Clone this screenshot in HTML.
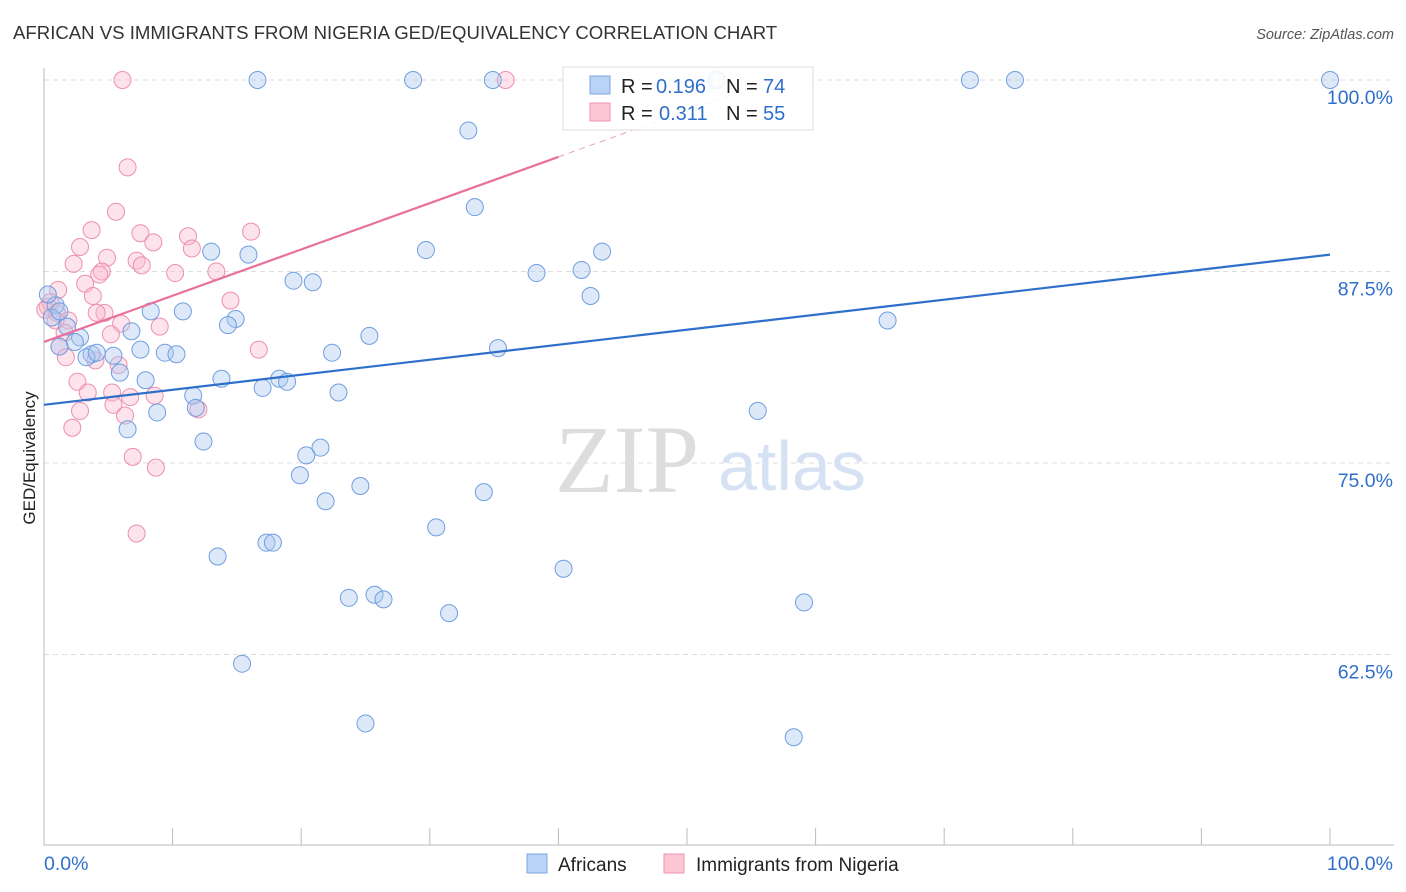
<!DOCTYPE html>
<html><head><meta charset="utf-8"><style>
body{margin:0;background:#fff;font-family:"Liberation Sans",sans-serif}
svg{display:block}
</style></head><body>
<svg id="chart" width="1406" height="892">
<text x="13" y="39" font-size="18.6" fill="#333">AFRICAN VS IMMIGRANTS FROM NIGERIA GED/EQUIVALENCY CORRELATION CHART</text>
<text x="1394" y="39" font-size="14.5" font-style="italic" fill="#555" text-anchor="end">Source: ZipAtlas.com</text>
<text x="35" y="458" font-size="17" fill="#222" text-anchor="middle" transform="rotate(-90 35 458)">GED/Equivalency</text>
<g id="grid"></g>
<text x="555" y="492" font-size="96" font-family="Liberation Serif,serif" fill="#ddd">ZIP</text>
<text x="718" y="490" font-size="70" fill="#d6e2f3">atlas</text>
<g id="points"></g>
<g id="lines"></g>
<g>
<rect x="563" y="67" width="250" height="63" fill="#fff" fill-opacity="0.85" stroke="#ddd"/>
<rect x="590" y="76" width="20" height="18" fill="#b8d3f5" stroke="#7aa6e0"/>
<text x="621" y="93" font-size="20" fill="#222">R =</text>
<text x="656" y="93" font-size="20" fill="#2f6fcc">0.196</text>
<text x="726" y="93" font-size="20" fill="#222">N =</text>
<text x="763" y="93" font-size="20" fill="#2f6fcc">74</text>
<rect x="590" y="103" width="20" height="18" fill="#fcc6d5" stroke="#ef93b0"/>
<text x="621" y="120" font-size="20" fill="#222">R =</text>
<text x="659" y="120" font-size="20" fill="#2f6fcc">0.311</text>
<text x="726" y="120" font-size="20" fill="#222">N =</text>
<text x="763" y="120" font-size="20" fill="#2f6fcc">55</text>
</g>
<g>
<rect x="527" y="854" width="20" height="19" fill="#b8d3f5" stroke="#7aa6e0"/>
<text x="558" y="871" font-size="19" fill="#222">Africans</text>
<rect x="664" y="854" width="20" height="19" fill="#fcc6d5" stroke="#ef93b0"/>
<text x="696" y="871" font-size="19" fill="#222">Immigrants from Nigeria</text>
</g>
</svg>
<script>
const yTicks=[100,87.5,75,62.5];
const yTickLabels=["100.0%","87.5%","75.0%","62.5%"];
const xTickCount=10;
const blueX=[16.6,28.7,34.9,52.3,72.0,75.5,100,33.0,33.5,29.7,13.0,15.9,43.4,38.3,41.8,19.4,20.9,42.5,10.8,8.3,14.9,14.3,65.6,6.8,25.3,1.8,2.8,2.4,1.2,35.3,22.4,7.5,9.4,10.3,3.7,3.3,5.4,4.1,5.9,7.9,13.8,18.3,18.9,17.0,22.9,11.6,11.8,8.8,55.5,6.5,12.4,21.5,20.4,19.9,24.6,34.2,21.9,30.5,17.3,17.8,13.5,40.4,25.7,23.7,26.4,59.1,31.5,15.4,25.0,58.3,0.9,0.6,1.2,0.3];
const blueY=[100,100,100,100,100,100,100,96.7,91.7,88.9,88.8,88.6,88.8,87.4,87.6,86.9,86.8,85.9,84.9,84.9,84.4,84.0,84.3,83.6,83.3,83.9,83.2,82.9,82.6,82.5,82.2,82.4,82.2,82.1,82.1,81.9,82.0,82.2,80.9,80.4,80.5,80.5,80.3,79.9,79.6,79.4,78.6,78.3,78.4,77.2,76.4,76.0,75.5,74.2,73.5,73.1,72.5,70.8,69.8,69.8,68.9,68.1,66.4,66.2,66.1,65.9,65.2,61.9,58.0,57.1,85.3,84.5,84.9,86.0];
const pinkX=[6.1,35.9,6.5,5.6,3.7,7.5,16.1,11.2,2.8,11.5,8.5,4.9,2.3,7.2,7.6,4.5,10.2,13.4,4.3,3.2,3.8,14.5,1.1,0.3,1.0,4.7,4.1,6.0,9.0,1.9,5.2,1.6,1.2,1.7,16.7,5.8,4.0,2.6,3.4,5.3,6.7,8.6,5.4,12.0,2.8,6.3,2.2,6.9,8.7,7.2,0.5,0.9,0.1];
const pinkY=[100,100,94.3,91.4,90.2,90.0,90.1,89.8,89.1,89.0,89.4,88.4,88.0,88.2,87.9,87.5,87.4,87.5,87.3,86.7,85.9,85.6,86.3,85.2,84.8,84.8,84.8,84.1,83.9,84.3,83.4,83.5,82.6,81.9,82.4,81.4,81.7,80.3,79.6,79.6,79.3,79.4,78.8,78.5,78.4,78.1,77.3,75.4,74.7,70.4,85.5,84.3,85.0];
const blueTrend=[78.8,88.6];
const pinkTrend=[82.9,0.302];
const X0=44,X1=1330,Y100=80,PPU=15.32;
const sx=v=>X0+(X1-X0)*v/100;
const sy=v=>Y100+(100-v)*PPU;
const NS="http://www.w3.org/2000/svg";
function mk(tag,attrs,parent){const e=document.createElementNS(NS,tag);for(const k in attrs)e.setAttribute(k,attrs[k]);parent.appendChild(e);return e;}
const grid=document.getElementById('grid');
yTicks.forEach((t,i)=>{
 const l=mk('line',{x1:44,x2:1394,y1:sy(t),y2:sy(t),stroke:'#ddd','stroke-dasharray':'5,4'},grid);
 
 
 const tx=mk('text',{x:1393,y:sy(t)+24,'font-size':19.5,fill:'#2f6fcc','text-anchor':'end'},grid);
 tx.textContent=yTickLabels[i];
 
 
});
const ya=mk('line',{x1:44,x2:44,y1:68,y2:845,stroke:'#bbb'},grid);


const xa=mk('line',{x1:44,x2:1394,y1:845,y2:845,stroke:'#bbb'},grid);


for(let i=0;i<=xTickCount;i++){
 const t=mk('line',{x1:sx(i*10),x2:sx(i*10),y1:828,y2:845,stroke:'#bbb'},grid);
 
 
}
const xl=mk('text',{x:44,y:870,'font-size':19.5,fill:'#2f6fcc'},grid);xl.textContent='0.0%';


const xr=mk('text',{x:1393,y:870,'font-size':19.5,fill:'#2f6fcc','text-anchor':'end'},grid);xr.textContent='100.0%';


const pts=document.getElementById('points');
pinkX.forEach((x,i)=>{
 const c=mk('circle',{cx:sx(x),cy:sy(pinkY[i]),r:8.5,fill:'#f9b8cc','fill-opacity':0.4,stroke:'#ee8fae','stroke-width':1},pts);
 
 
});
blueX.forEach((x,i)=>{
 const c=mk('circle',{cx:sx(x),cy:sy(blueY[i]),r:8.5,fill:'#a9c8f0','fill-opacity':0.4,stroke:'#6f9ee0','stroke-width':1},pts);
 
 
});
const lines=document.getElementById('lines');
const bl=mk('line',{x1:sx(0),y1:sy(blueTrend[0]),x2:sx(100),y2:sy(blueTrend[1]),stroke:'#2f6fcc','stroke-width':2.2},lines);


const pf=x=>pinkTrend[0]+pinkTrend[1]*x;
const pl=mk('line',{x1:sx(0),y1:sy(pf(0)),x2:sx(40),y2:sy(pf(40)),stroke:'#e8709a','stroke-width':2.2},lines);


const xe=(100-pinkTrend[0])/pinkTrend[1];
const pd=mk('line',{x1:sx(40),y1:sy(pf(40)),x2:sx(xe),y2:sy(100),stroke:'#e8a0b8','stroke-width':1,'stroke-dasharray':'6,5'},lines);


</script>
</body></html>
